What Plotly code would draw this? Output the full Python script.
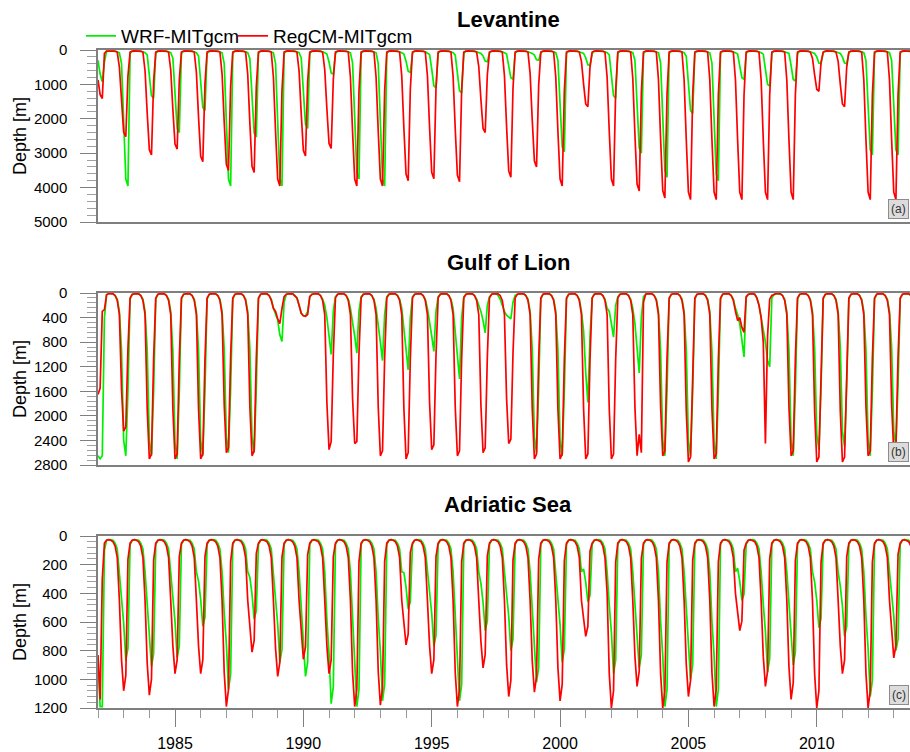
import plotly.graph_objects as go

# ---------------- data (monthly mixed-layer depth, m), one row per year Jan..Dec ----------------
years = list(range(1982, 2014))
months = list(range(12))

lev_wrf = [
    [300, 700, 920, 350, 40, 30, 25, 25, 30, 50, 80, 395],
    [1975, 3753, 3950, 100, 40, 30, 25, 25, 30, 50, 80, 140],
    [700, 1330, 1400, 100, 40, 30, 25, 25, 30, 50, 80, 240],
    [1200, 2280, 2400, 100, 40, 30, 25, 25, 30, 50, 80, 176],
    [880, 1672, 1760, 100, 40, 30, 25, 25, 30, 50, 80, 395],
    [1975, 3753, 3950, 100, 40, 30, 25, 25, 30, 50, 80, 253],
    [1265, 2404, 2530, 100, 40, 30, 25, 25, 30, 50, 80, 395],
    [1975, 3753, 3950, 100, 40, 30, 25, 25, 30, 50, 80, 228],
    [1140, 2166, 2280, 100, 40, 30, 25, 25, 30, 50, 80, 120],
    [350, 665, 700, 100, 40, 30, 25, 25, 30, 50, 80, 375],
    [1875, 3563, 3750, 100, 40, 30, 25, 25, 30, 50, 80, 395],
    [1975, 3753, 3950, 100, 40, 30, 25, 25, 30, 50, 80, 120],
    [325, 618, 650, 100, 40, 30, 25, 25, 30, 50, 80, 130],
    [550, 1045, 1100, 100, 40, 30, 25, 25, 30, 50, 80, 150],
    [625, 1188, 1250, 100, 40, 30, 25, 25, 30, 50, 80, 100],
    [170, 323, 340, 80, 40, 30, 25, 25, 30, 50, 80, 120],
    [425, 808, 850, 100, 40, 30, 25, 25, 30, 50, 80, 100],
    [150, 285, 300, 80, 40, 30, 25, 25, 30, 50, 80, 296],
    [1480, 2812, 2960, 100, 40, 30, 25, 25, 30, 50, 80, 100],
    [225, 428, 450, 100, 40, 30, 25, 25, 30, 50, 80, 140],
    [700, 1330, 1400, 100, 40, 30, 25, 25, 30, 50, 80, 300],
    [1500, 2850, 3000, 100, 40, 30, 25, 25, 30, 50, 80, 370],
    [1850, 3515, 3700, 100, 40, 30, 25, 25, 30, 50, 80, 185],
    [925, 1758, 1850, 100, 40, 30, 25, 25, 30, 50, 80, 380],
    [1900, 3610, 3800, 100, 40, 30, 25, 25, 30, 50, 80, 120],
    [425, 808, 850, 100, 40, 30, 25, 25, 30, 50, 80, 120],
    [525, 998, 1050, 100, 40, 30, 25, 25, 30, 50, 80, 100],
    [450, 855, 900, 100, 40, 30, 25, 25, 30, 50, 80, 100],
    [200, 380, 400, 80, 40, 30, 25, 25, 30, 50, 80, 100],
    [200, 380, 400, 80, 40, 30, 25, 25, 30, 50, 80, 305],
    [1525, 2898, 3050, 100, 40, 30, 25, 25, 30, 50, 80, 305],
    [1525, 2898, 3050, 100, 40, 30, 25, 25, 30, 50, 80, 120],
]

lev_reg = [
    [870, 1300, 1410, 100, 30, 25, 25, 30, 40, 60, 504, 1512],
    [2394, 2520, 756, 60, 30, 25, 25, 30, 40, 60, 610, 1830],
    [2898, 3050, 915, 60, 30, 25, 25, 30, 40, 60, 576, 1728],
    [2736, 2880, 864, 60, 30, 25, 25, 30, 40, 60, 650, 1950],
    [3088, 3250, 975, 60, 30, 25, 25, 30, 40, 60, 700, 2100],
    [3325, 3500, 1050, 60, 30, 25, 25, 30, 40, 60, 712, 2136],
    [3382, 3560, 1068, 60, 30, 25, 25, 30, 40, 60, 790, 2370],
    [3753, 3950, 1185, 60, 30, 25, 25, 30, 40, 60, 616, 1848],
    [2926, 3080, 924, 60, 30, 25, 25, 30, 40, 60, 572, 1716],
    [2717, 2860, 858, 60, 30, 25, 25, 30, 40, 60, 790, 2370],
    [3753, 3950, 1185, 60, 30, 25, 25, 30, 40, 60, 790, 2370],
    [3753, 3950, 1185, 60, 30, 25, 25, 30, 40, 60, 760, 2280],
    [3610, 3800, 1140, 60, 30, 25, 25, 30, 40, 60, 748, 2244],
    [3553, 3740, 1122, 60, 30, 25, 25, 30, 40, 60, 766, 2298],
    [3639, 3830, 1149, 60, 30, 25, 25, 30, 40, 60, 480, 1440],
    [2280, 2400, 720, 60, 30, 25, 25, 30, 40, 60, 740, 2220],
    [3515, 3700, 1110, 60, 30, 25, 25, 30, 40, 60, 680, 2040],
    [3230, 3400, 1020, 60, 30, 25, 25, 30, 40, 60, 790, 2370],
    [3753, 3950, 1185, 60, 30, 25, 25, 30, 40, 60, 330, 990],
    [1568, 1650, 495, 60, 30, 25, 25, 30, 40, 60, 790, 2370],
    [3753, 3950, 1185, 60, 30, 25, 25, 30, 40, 60, 820, 2460],
    [3895, 4100, 1230, 60, 30, 25, 25, 30, 40, 60, 860, 2580],
    [4085, 4300, 1290, 60, 30, 25, 25, 30, 40, 60, 870, 2610],
    [4133, 4350, 1305, 60, 30, 25, 25, 30, 40, 60, 870, 2610],
    [4133, 4350, 1305, 60, 30, 25, 25, 30, 40, 60, 870, 2610],
    [4133, 4350, 1305, 60, 30, 25, 25, 30, 40, 60, 870, 2610],
    [4133, 4350, 1305, 60, 30, 25, 25, 30, 40, 60, 870, 2610],
    [4133, 4350, 1305, 60, 30, 25, 25, 30, 40, 60, 240, 720],
    [1140, 1200, 360, 60, 30, 25, 25, 30, 40, 60, 330, 990],
    [1568, 1650, 495, 60, 30, 25, 25, 30, 40, 60, 870, 2610],
    [4133, 4350, 1305, 60, 30, 25, 25, 30, 40, 60, 870, 2610],
    [4133, 4350, 1305, 60, 30, 25, 25, 30, 40, 60, 800, 2400],
]

gol_wrf = [
    [2650, 2700, 2650, 400, 30, 10, 10, 15, 40, 100, 300, 930],
    [2400, 2650, 1600, 100, 25, 10, 10, 15, 40, 100, 300, 930],
    [2400, 2650, 1600, 100, 25, 10, 10, 15, 40, 100, 300, 945],
    [2430, 2700, 1620, 100, 25, 10, 10, 15, 40, 100, 300, 930],
    [2400, 2650, 1600, 100, 25, 10, 10, 15, 40, 100, 300, 910],
    [2340, 2600, 1560, 100, 25, 10, 10, 15, 40, 100, 300, 910],
    [2340, 2600, 1560, 100, 25, 10, 10, 15, 40, 100, 250, 350],
    [440, 680, 790, 150, 25, 10, 10, 15, 40, 80, 200, 330],
    [370, 370, 300, 60, 25, 10, 10, 15, 40, 100, 200, 400],
    [700, 1000, 300, 60, 25, 10, 10, 15, 40, 100, 250, 450],
    [700, 980, 300, 60, 25, 10, 10, 15, 40, 100, 250, 500],
    [800, 1100, 350, 60, 25, 10, 10, 15, 40, 100, 250, 550],
    [900, 1250, 400, 60, 25, 10, 10, 15, 40, 100, 250, 450],
    [700, 950, 300, 60, 25, 10, 10, 15, 40, 100, 250, 600],
    [1000, 1400, 400, 60, 25, 10, 10, 15, 40, 100, 200, 300],
    [450, 650, 200, 60, 25, 10, 10, 40, 100, 200, 300, 360],
    [390, 420, 150, 40, 25, 10, 10, 15, 40, 100, 300, 910],
    [2340, 2600, 1560, 100, 25, 10, 10, 15, 40, 100, 300, 930],
    [2400, 2650, 1600, 100, 25, 10, 10, 15, 40, 100, 300, 620],
    [1300, 1780, 700, 80, 25, 10, 10, 15, 40, 100, 250, 300],
    [500, 720, 200, 60, 25, 10, 10, 15, 40, 100, 250, 500],
    [900, 1300, 400, 60, 25, 10, 10, 15, 40, 100, 300, 930],
    [2400, 2650, 1600, 100, 25, 10, 10, 15, 40, 100, 300, 930],
    [2400, 2650, 1600, 100, 25, 10, 10, 15, 40, 100, 300, 945],
    [2430, 2700, 1620, 100, 25, 10, 10, 15, 40, 100, 250, 350],
    [500, 800, 1040, 80, 25, 10, 10, 20, 80, 200, 400, 600],
    [800, 1100, 1200, 80, 25, 10, 10, 15, 40, 100, 300, 930],
    [2400, 2650, 1600, 100, 25, 10, 10, 15, 40, 100, 300, 890],
    [2300, 2550, 1530, 100, 25, 10, 10, 15, 40, 100, 300, 875],
    [2250, 2500, 1500, 100, 25, 10, 10, 15, 40, 100, 300, 930],
    [2400, 2650, 1600, 100, 25, 10, 10, 15, 40, 100, 300, 875],
    [2250, 2500, 1500, 100, 25, 10, 10, 15, 40, 100, 300, 900],
]

gol_reg = [
    [1650, 1550, 300, 270, 30, 10, 10, 15, 40, 120, 350, 1575],
    [2250, 2180, 900, 80, 20, 10, 10, 15, 40, 120, 350, 1890],
    [2700, 2620, 1080, 80, 20, 10, 10, 15, 40, 120, 350, 1890],
    [2700, 2620, 1080, 80, 20, 10, 10, 15, 40, 120, 350, 1890],
    [2700, 2620, 1080, 80, 20, 10, 10, 15, 40, 120, 350, 1820],
    [2600, 2520, 1040, 80, 20, 10, 10, 15, 40, 120, 350, 1855],
    [2650, 2570, 1060, 80, 20, 10, 10, 15, 40, 120, 250, 300],
    [420, 500, 250, 60, 20, 10, 10, 15, 40, 80, 200, 330],
    [370, 380, 350, 60, 20, 10, 10, 15, 40, 120, 350, 1785],
    [2550, 2420, 1000, 80, 20, 10, 10, 15, 40, 120, 350, 1715],
    [2450, 2420, 980, 80, 20, 10, 10, 15, 40, 120, 350, 1855],
    [2650, 2570, 1060, 80, 20, 10, 10, 15, 40, 120, 350, 1890],
    [2700, 2600, 1080, 80, 20, 10, 10, 15, 40, 120, 350, 1785],
    [2550, 2470, 1020, 80, 20, 10, 10, 15, 40, 120, 350, 1855],
    [2650, 2570, 1060, 80, 20, 10, 10, 15, 40, 120, 350, 1820],
    [2600, 2520, 1040, 80, 20, 10, 10, 15, 40, 120, 350, 1715],
    [2450, 2380, 980, 80, 20, 10, 10, 15, 40, 120, 350, 1890],
    [2700, 2620, 1080, 80, 20, 10, 10, 15, 40, 120, 350, 1890],
    [2700, 2620, 1080, 80, 20, 10, 10, 15, 40, 120, 350, 1890],
    [2700, 2620, 1080, 80, 20, 10, 10, 15, 40, 120, 350, 1890],
    [2700, 2620, 1080, 80, 20, 10, 10, 15, 40, 120, 350, 1855],
    [2650, 2300, 2600, 150, 20, 10, 10, 15, 40, 120, 350, 1855],
    [2650, 2570, 1060, 80, 20, 10, 10, 15, 40, 120, 350, 1925],
    [2750, 2670, 1100, 80, 20, 10, 10, 15, 40, 120, 350, 1890],
    [2700, 2620, 1080, 80, 20, 10, 10, 15, 40, 120, 300, 450],
    [400, 560, 640, 60, 20, 10, 10, 20, 80, 200, 400, 800],
    [2450, 700, 100, 40, 20, 10, 10, 15, 40, 120, 350, 1855],
    [2650, 2570, 1060, 80, 20, 10, 10, 15, 40, 120, 350, 1925],
    [2750, 2670, 1100, 80, 20, 10, 10, 15, 40, 120, 350, 1925],
    [2750, 2670, 1100, 80, 20, 10, 10, 15, 40, 120, 350, 1855],
    [2650, 2570, 1060, 80, 20, 10, 10, 15, 40, 120, 350, 1820],
    [2600, 2500, 1040, 80, 20, 10, 10, 15, 40, 120, 350, 1800],
]

adr_wrf = [
    [850, 1190, 1190, 100, 30, 25, 25, 30, 50, 90, 250, 435],
    [609, 870, 783, 60, 30, 25, 25, 30, 50, 90, 250, 455],
    [637, 910, 819, 60, 30, 25, 25, 30, 50, 90, 250, 425],
    [595, 850, 765, 60, 30, 25, 25, 30, 50, 90, 250, 315],
    [441, 630, 567, 60, 30, 25, 25, 30, 50, 90, 250, 535],
    [749, 1070, 963, 60, 30, 25, 25, 30, 50, 90, 250, 290],
    [406, 580, 522, 60, 30, 25, 25, 30, 50, 90, 250, 440],
    [616, 880, 792, 60, 30, 25, 25, 30, 50, 90, 250, 490],
    [686, 980, 882, 60, 30, 25, 25, 30, 50, 90, 250, 585],
    [819, 1170, 1053, 60, 30, 25, 25, 30, 50, 90, 250, 595],
    [833, 1190, 1071, 60, 30, 25, 25, 30, 50, 90, 250, 575],
    [805, 1150, 1035, 60, 30, 25, 25, 30, 50, 90, 250, 255],
    [357, 510, 459, 60, 30, 25, 25, 30, 50, 90, 250, 385],
    [539, 770, 693, 60, 30, 25, 25, 30, 50, 90, 250, 575],
    [805, 1150, 1035, 60, 30, 25, 25, 30, 50, 90, 250, 330],
    [462, 660, 594, 60, 30, 25, 25, 30, 50, 90, 250, 400],
    [560, 800, 720, 60, 30, 25, 25, 30, 50, 90, 250, 510],
    [714, 1020, 918, 60, 30, 25, 25, 30, 50, 90, 250, 440],
    [616, 880, 792, 60, 30, 25, 25, 30, 50, 90, 250, 230],
    [322, 460, 414, 60, 30, 25, 25, 30, 50, 90, 250, 480],
    [672, 960, 864, 60, 30, 25, 25, 30, 50, 90, 250, 460],
    [644, 920, 828, 60, 30, 25, 25, 30, 50, 90, 250, 595],
    [833, 1190, 1071, 60, 30, 25, 25, 30, 50, 90, 250, 500],
    [700, 1000, 900, 60, 30, 25, 25, 30, 50, 90, 250, 595],
    [833, 1190, 1071, 60, 30, 25, 25, 30, 50, 90, 250, 225],
    [315, 450, 405, 60, 30, 25, 25, 30, 50, 90, 250, 475],
    [665, 950, 855, 60, 30, 25, 25, 30, 50, 90, 250, 450],
    [630, 900, 810, 60, 30, 25, 25, 30, 50, 90, 250, 320],
    [448, 640, 576, 60, 30, 25, 25, 30, 50, 90, 250, 350],
    [490, 700, 630, 60, 30, 25, 25, 30, 50, 90, 250, 560],
    [784, 1120, 1008, 60, 30, 25, 25, 30, 50, 90, 250, 400],
    [560, 800, 720, 60, 30, 25, 25, 30, 50, 90, 250, 450],
]

adr_reg = [
    [830, 1140, 300, 50, 30, 25, 30, 40, 70, 150, 450, 864],
    [1080, 972, 162, 50, 30, 25, 30, 40, 70, 150, 450, 888],
    [1110, 999, 167, 50, 30, 25, 30, 40, 70, 150, 450, 768],
    [960, 864, 144, 50, 30, 25, 30, 40, 70, 150, 450, 768],
    [960, 864, 144, 50, 30, 25, 30, 40, 70, 150, 450, 952],
    [1190, 1071, 179, 50, 30, 25, 30, 40, 70, 150, 450, 648],
    [810, 729, 122, 50, 30, 25, 30, 40, 70, 150, 450, 784],
    [980, 882, 147, 50, 30, 25, 30, 40, 70, 150, 450, 688],
    [860, 774, 129, 50, 30, 25, 30, 40, 70, 150, 450, 768],
    [960, 864, 144, 50, 30, 25, 30, 40, 70, 150, 450, 952],
    [1190, 1071, 179, 50, 30, 25, 30, 40, 70, 150, 450, 944],
    [1180, 1062, 177, 50, 30, 25, 30, 40, 70, 150, 450, 608],
    [760, 684, 114, 50, 30, 25, 30, 40, 70, 150, 450, 768],
    [960, 864, 144, 50, 30, 25, 30, 40, 70, 150, 450, 952],
    [1190, 1071, 179, 50, 30, 25, 30, 40, 70, 150, 450, 736],
    [920, 828, 138, 50, 30, 25, 30, 40, 70, 150, 450, 896],
    [1120, 1008, 168, 50, 30, 25, 30, 40, 70, 150, 450, 872],
    [1090, 981, 164, 50, 30, 25, 30, 40, 70, 150, 450, 920],
    [1150, 1035, 173, 50, 30, 25, 30, 40, 70, 150, 450, 560],
    [700, 630, 105, 50, 30, 25, 30, 40, 70, 150, 400, 960],
    [1200, 1080, 180, 50, 30, 25, 30, 40, 70, 150, 450, 840],
    [1050, 945, 158, 50, 30, 25, 30, 40, 70, 150, 450, 960],
    [1200, 1080, 180, 50, 30, 25, 30, 40, 70, 150, 450, 896],
    [1120, 1008, 168, 50, 30, 25, 30, 40, 70, 150, 450, 952],
    [1190, 1071, 179, 50, 30, 25, 30, 40, 70, 150, 400, 528],
    [660, 594, 99, 50, 30, 25, 30, 40, 70, 150, 450, 840],
    [1050, 945, 158, 50, 30, 25, 30, 40, 70, 150, 450, 912],
    [1140, 1026, 171, 50, 30, 25, 30, 40, 70, 150, 450, 960],
    [1200, 1080, 180, 50, 30, 25, 30, 40, 70, 150, 450, 768],
    [960, 864, 144, 50, 30, 25, 30, 40, 70, 150, 450, 960],
    [1200, 1080, 180, 50, 30, 25, 30, 40, 70, 150, 450, 680],
    [850, 765, 128, 50, 30, 25, 30, 40, 70, 150, 450, 720],
]

titles = ["Levantine", "Gulf of Lion", "Adriatic Sea"]
panel_tags = ["(a)", "(b)", "(c)"]
series_names = ["WRF-MITgcm", "RegCM-MITgcm"]
y_max = [5000, 2800, 1200]
y_major = [1000, 400, 200]
y_minor = [200, 80, 40]
x_major_ticks = [1985, 1990, 1995, 2000, 2005, 2010]

# ---------------- build figure ----------------
time = [y + m / 12.0 for y in years for m in months]

def flat(rows):
    return [v for r in rows for v in r]

GREEN = "#00ee00"
RED = "#ff0000"
FONT = "Liberation Sans, Arial, Helvetica, sans-serif"
AXC = "#7f7f7f"

fig = go.Figure()
data = [(lev_wrf, lev_reg), (gol_wrf, gol_reg), (adr_wrf, adr_reg)]
for i, (wrf, reg) in enumerate(data):
    xa = "x" if i == 0 else f"x{i+1}"
    ya = "y" if i == 0 else f"y{i+1}"
    fig.add_trace(go.Scatter(x=time, y=flat(wrf), mode="lines", name=series_names[0],
                             line=dict(color=GREEN, width=1.7), xaxis=xa, yaxis=ya,
                             showlegend=(i == 0), legend="legend"))
    fig.add_trace(go.Scatter(x=time, y=flat(reg), mode="lines", name=series_names[1],
                             line=dict(color=RED, width=1.7), xaxis=xa, yaxis=ya,
                             showlegend=(i == 0), legend="legend2"))

# pixel geometry (page body margin removed below, so window px == figure px)
W, H = 910, 752
L, R = 98, 0
panels_px = [(50, 222), (293, 465), (536, 708)]   # y of top / bottom of each panel
T = panels_px[0][0]
B = H - panels_px[2][1]
plot_h = H - T - B
plot_w = W - L - R

def py(ypix):
    return (H - B - ypix) / plot_h

def px(xpix):
    return (xpix - L) / plot_w

xrange_ = [1982.0, 1982.0 + plot_w / 25.67]

legend_common = dict(orientation="h", y=py(36), xanchor="left", yanchor="middle",
                     font=dict(size=19, family=FONT), bgcolor="rgba(0,0,0,0)",
                     itemwidth=30)

layout = dict(
    width=W, height=H,
    margin=dict(l=L, r=R, t=T, b=B, autoexpand=False),
    plot_bgcolor="white", paper_bgcolor="white",
    font=dict(family=FONT, color="black"),
    showlegend=True,
    legend=dict(x=px(81), **legend_common),
    legend2=dict(x=px(233), **legend_common),
)

annotations = []
for i in range(3):
    top, bot = panels_px[i]
    sx = "" if i == 0 else str(i + 1)
    last = (i == 2)
    layout["xaxis" + sx] = dict(
        domain=[0, 1], anchor="y" + sx, range=xrange_, automargin=False,
        showline=True, mirror=True, linecolor=AXC, linewidth=1.5,
        showgrid=False, zeroline=False,
        showticklabels=last,
        tickmode="array", tickvals=x_major_ticks if last else [],
        ticks="outside" if last else "", ticklen=17, tickwidth=1.3, tickcolor=AXC,
        tickfont=dict(size=16, family=FONT),
        ticklabelstandoff=3,
        minor=dict(ticks="outside" if last else "", dtick=1, tick0=1982, ticklen=8,
                   tickwidth=1, tickcolor="#999999", showgrid=False),
    )
    layout["yaxis" + sx] = dict(
        domain=[py(bot), py(top)], anchor="x" + sx, automargin=False,
        range=[y_max[i], 0],
        showline=True, mirror=False, linecolor=AXC, linewidth=1.5,
        showgrid=False, zeroline=False,
        tick0=0, dtick=y_major[i], ticks="outside", ticklen=16, tickwidth=1.2,
        tickcolor=AXC, tickfont=dict(size=15, family=FONT),
        ticklabelstandoff=10,
        minor=dict(ticks="outside", dtick=y_minor[i], ticklen=9, tickwidth=1,
                   tickcolor="#a0a0a0", showgrid=False),
        title=dict(text="Depth [m]", font=dict(size=18, family=FONT), standoff=3),
    )
    # panel title
    annotations.append(dict(text="<b>" + titles[i] + "</b>", xref="paper", yref="paper",
                            x=px(508), y=py(top - 31), xanchor="center", yanchor="middle",
                            showarrow=False, font=dict(size=22, family=FONT, color="black")))
    # panel tag box (kept fully inside the visible page)
    annotations.append(dict(text=panel_tags[i], xref="paper", yref="paper",
                            x=px(909), y=py(bot - 3), xanchor="right", yanchor="bottom",
                            showarrow=False, font=dict(size=12, family=FONT, color="#333333"),
                            bgcolor="#dcdcdc", bordercolor="#8c8c8c", borderwidth=1, borderpad=2))

layout["annotations"] = annotations
fig.update_layout(**layout)
fig.write_html(
    "out.html",
    config={"displayModeBar": False},
    post_script="document.body.style.margin='0px';document.body.style.overflow='hidden';",
)
